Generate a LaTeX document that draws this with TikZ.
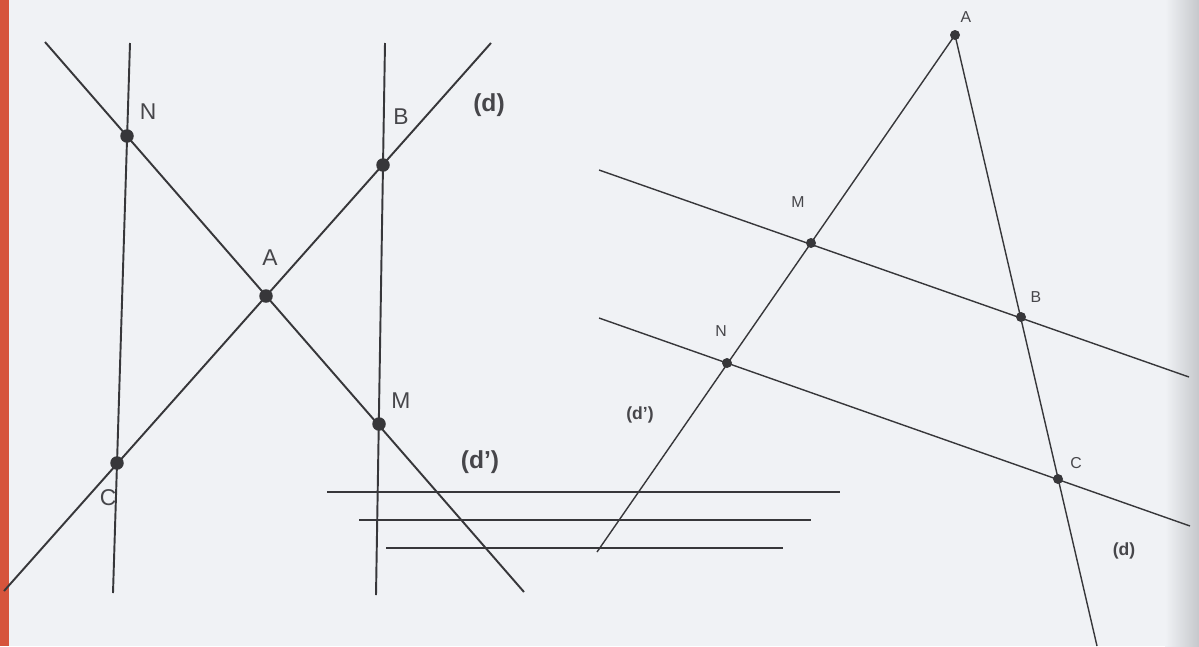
\documentclass[tikz,border=0pt]{standalone}
\usepackage{fontspec}
\setmainfont{Liberation Sans}
\definecolor{paper}{RGB}{240,242,245}
\definecolor{ink}{RGB}{55,55,58}
\definecolor{lbl}{RGB}{70,70,74}
\definecolor{rim}{RGB}{214,84,60}
\definecolor{shadow}{RGB}{198,200,204}

\tikzset{
  bigdot/.style={circle,fill=ink,inner sep=0pt,minimum size=0.27cm},
  smalldot/.style={circle,fill=ink,inner sep=0pt,minimum size=0.2cm},
  bigline/.style={draw=ink,line width=1.1pt},
  smallline/.style={draw=ink,line width=0.8pt},
}

\begin{document}
\begin{tikzpicture}[x=0.02cm,y=-0.02cm]
\useasboundingbox (0,0) rectangle (1199,646);
\fill[paper] (0,0) rectangle (1199,646);
\fill[rim] (0,0) rectangle (9,646);
\shade[left color=paper,right color=shadow] (1165,0) rectangle (1199,646);

% first figure
\coordinate (nm1) at (45,42);
\coordinate (nm2) at (524,592);
\coordinate (cb1) at (4,591);
\coordinate (cb2) at (491,43);
\coordinate (nc1) at (130,43);
\coordinate (nc2) at (113,593);
\coordinate (bm1) at (385,43);
\coordinate (bm2) at (376,595);

\path [bigline] (nm1) -- (nm2);
\path [bigline] (cb1) -- (cb2);
\path [bigline] (nc1) -- (nc2);
\path [bigline] (bm1) -- (bm2);

\coordinate (h1a) at (327,492);
\coordinate (h1b) at (840,492);
\coordinate (h2a) at (359,520);
\coordinate (h2b) at (811,520);
\coordinate (h3a) at (386,548);
\coordinate (h3b) at (783,548);
\path [bigline] (h1a) -- (h1b);
\path [bigline] (h2a) -- (h2b);
\path [bigline] (h3a) -- (h3b);

\begin{scope}[every node/.style={bigdot}]
    \node (n) at (127,136) {};
    \node (b) at (383,165) {};
    \node (a) at (266,296) {};
    \node (m) at (379,424) {};
    \node (c) at (117,463) {};
\end{scope}

\begin{scope}[every node/.style={text=lbl,font=\fontsize{13}{13}\selectfont}]
    \node (ntext) at (148,112) {N};
    \node (btext) at (401,117) {B};
    \node (atext) at (270,258) {A};
    \node (mtext) at (401,401) {M};
    \node (ctext) at (108,498) {C};
    \node (dtext) at (489,105) [font=\fontsize{14}{14}\selectfont\bfseries] {(d)};
    \node (dptext) at (480,462) [font=\fontsize{14}{14}\selectfont\bfseries] {(d')};
\end{scope}

% second figure
\coordinate (an2) at (597,552);
\coordinate (ac2) at (1097,646);
\coordinate (mb1) at (599,170);
\coordinate (mb2) at (1189,377);
\coordinate (nc3) at (599,318);
\coordinate (nc4) at (1190,526);

\begin{scope}[every node/.style={smalldot}]
    \node (ra) at (955,35) {};
    \node (rm) at (811,243) {};
    \node (rb) at (1021,317) {};
    \node (rn) at (727,363) {};
    \node (rc) at (1058,479) {};
\end{scope}

\path [smallline] (ra.center) -- (an2);
\path [smallline] (ra.center) -- (ac2);
\path [smallline] (mb1) -- (mb2);
\path [smallline] (nc3) -- (nc4);

\begin{scope}[every node/.style={text=lbl,font=\fontsize{9}{9}\selectfont}]
    \node (ratext) at (966,17) {A};
    \node (rmtext) at (798,202) {M};
    \node (rbtext) at (1036,297) {B};
    \node (rntext) at (721,331) {N};
    \node (rctext) at (1076,463) {C};
    \node (rdptext) at (640,415) [font=\fontsize{10}{10}\selectfont\bfseries] {(d')};
    \node (rdtext) at (1124,551) [font=\fontsize{10}{10}\selectfont\bfseries] {(d)};
\end{scope}
\end{tikzpicture}
\end{document}
